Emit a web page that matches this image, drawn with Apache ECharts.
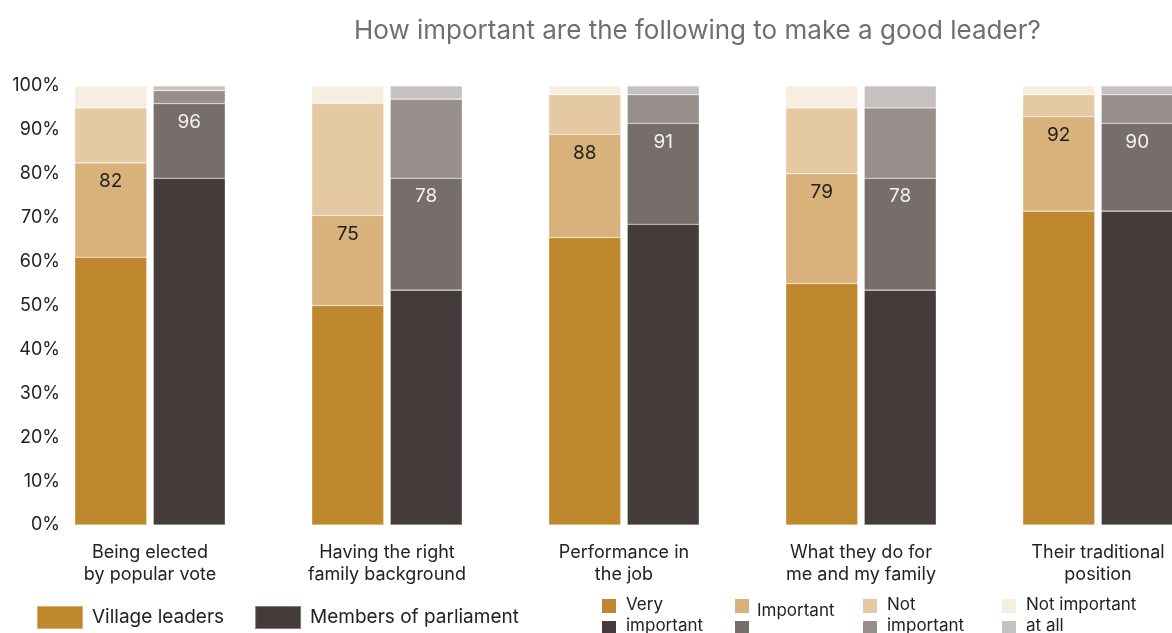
<!DOCTYPE html>
<html>
<head>
<meta charset="utf-8">
<script src="https://cdn.jsdelivr.net/npm/echarts@6/dist/echarts.min.js"></script>
<style>
html,body{margin:0;padding:0;background:#fff;width:1172px;height:633px;overflow:hidden;}
#chart{width:1240px;height:633px;}
</style>
</head>
<body>
<div id="chart"></div>
<script>
var categories = ['Being elected\nby popular vote', 'Having the right\nfamily background', 'Performance in\nthe job', 'What they do for\nme and my family', 'Their traditional\nposition'];
var yTicks = [0, 10, 20, 30, 40, 50, 60, 70, 80, 90, 100];

var villageVery = [61, 50, 65.5, 55, 71.5];
var villageImportant = [21.5, 20.5, 23.5, 25, 21.5];
var villageNot = [12.5, 25.5, 9, 15, 5];
var villageNotAtAll = [5, 4, 2, 5, 2];

var mpVery = [79, 53.5, 68.5, 53.5, 71.5];
var mpImportant = [17, 25.5, 23, 25.5, 20];
var mpNot = [3, 18, 6.5, 16, 6.5];
var mpNotAtAll = [1, 3, 2, 5, 2];

var villageLabels = [82, 75, 88, 79, 92];
var mpLabels = [96, 78, 91, 78, 90];

var FONT = 'Inter';
var vCol = ['#C0882C', '#D8B27A', '#E4C9A3', '#F6EEE0'];
var mCol = ['#443B3A', '#776E6C', '#988F8D', '#C6C1C1'];

function bar(name, stack, data, color, labels, labelColor) {
  var s = {
    name: name, type: 'bar', stack: stack, data: data,
    barWidth: 72, barGap: '9%',
    itemStyle: {color: color, borderColor: 'rgba(255,255,255,0.35)', borderWidth: 0.6},
    emphasis: {disabled: true}
  };
  if (labels) {
    s.label = {
      show: true, position: 'insideTop', distance: 9,
      fontFamily: FONT, fontSize: 19, color: labelColor,
      formatter: function (p) { return labels[p.dataIndex]; }
    };
  }
  return s;
}

var chart = echarts.init(document.getElementById('chart'));

var legendCols = [
  {x: 602, lines: ['Very', 'important'], v: vCol[0], m: mCol[0]},
  {x: 735, lines: ['Important'], v: vCol[1], m: mCol[1]},
  {x: 863, lines: ['Not', 'important'], v: vCol[2], m: mCol[2]},
  {x: 1002, lines: ['Not important', 'at all'], v: vCol[3], m: mCol[3]}
];
var graphics = [];
legendCols.forEach(function (c) {
  graphics.push({type: 'rect', left: c.x, top: 599, shape: {width: 14, height: 14}, style: {fill: c.v}});
  graphics.push({type: 'rect', left: c.x, top: 621, shape: {width: 14, height: 14}, style: {fill: c.m}});
  if (c.lines.length === 2) {
    graphics.push({type: 'text', left: c.x + 24, top: 596, style: {text: c.lines[0], font: '17px ' + FONT, fill: '#222'}});
    graphics.push({type: 'text', left: c.x + 24, top: 617, style: {text: c.lines[1], font: '17px ' + FONT, fill: '#222'}});
  } else {
    graphics.push({type: 'text', left: c.x + 22, top: 602, style: {text: c.lines[0], font: '17px ' + FONT, fill: '#222'}});
  }
});

chart.setOption({
  animation: false,
  title: {
    text: 'How important are the following to make a good leader?',
    left: 349, top: 13,
    textStyle: {fontFamily: FONT, fontSize: 26, fontWeight: 'normal', color: '#6f6f6f'}
  },
  legend: {
    data: ['Village leaders', 'Members of parliament'],
    left: 36, top: 605, padding: 0, icon: 'rect', itemWidth: 46, itemHeight: 23, itemGap: 30,
    textStyle: {fontFamily: FONT, fontSize: 19, color: '#222', padding: [0, 0, 0, 4]}
  },
  grid: {left: 31.5, right: 23.5, top: 86, bottom: 108},
  xAxis: {
    type: 'category', data: categories,
    axisLine: {show: false}, axisTick: {show: false},
    axisLabel: {fontFamily: FONT, fontSize: 18, color: '#222', lineHeight: 22, margin: 17, interval: 0}
  },
  yAxis: {
    type: 'value', min: 0, max: 100, interval: 10,
    splitLine: {show: false}, axisLine: {show: false}, axisTick: {show: false},
    axisLabel: {
      fontFamily: FONT, fontSize: 18, color: '#222', margin: -28.5,
      formatter: function (v) { return yTicks.indexOf(v) >= 0 ? v + '%' : ''; }
    }
  },
  series: [
    bar('Village leaders', 'v', villageVery, vCol[0]),
    bar('Village important', 'v', villageImportant, vCol[1], villageLabels, '#1e1e1e'),
    bar('Village not important', 'v', villageNot, vCol[2]),
    bar('Village not important at all', 'v', villageNotAtAll, vCol[3]),
    bar('Members of parliament', 'm', mpVery, mCol[0]),
    bar('MP important', 'm', mpImportant, mCol[1], mpLabels, '#f2f2f2'),
    bar('MP not important', 'm', mpNot, mCol[2]),
    bar('MP not important at all', 'm', mpNotAtAll, mCol[3])
  ],
  graphic: graphics
});
</script>
</body>
</html>
